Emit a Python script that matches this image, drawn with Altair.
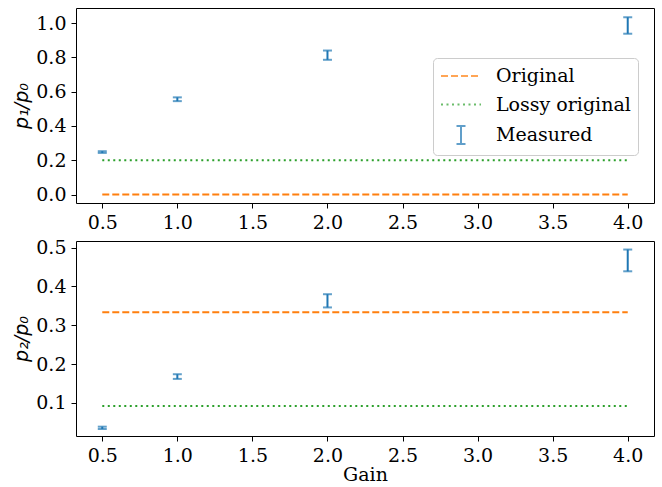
import altair as alt
import pandas as pd

# ---- data ----
gains = [0.5, 1.0, 2.0, 4.0]
p1_measured = [0.248, 0.556, 0.813, 0.986]
p1_err = [0.005, 0.011, 0.027, 0.048]
p2_measured = [0.036, 0.168, 0.363, 0.467]
p2_err = [0.003, 0.006, 0.017, 0.028]

line_x = [0.5, 4.0]
p1_original = 0.0
p1_lossy = 0.2
p2_original = 1 / 3
p2_lossy = 0.092

series = ["Original", "Lossy original", "Measured"]
colors = ["#ff7f0e", "#2ca02c", "#1f77b4"]
dashes = [[7, 3], [2, 3.5], [1, 0]]
legend_shapes = ["M-1,0H3", "M-1,0H3", "M1,-0.9V0.9M0.55,-0.9H1.45M0.55,0.9H1.45"]

x_ticks = [0.5, 1.0, 1.5, 2.0, 2.5, 3.0, 3.5, 4.0]
p1_ticks = [0.0, 0.2, 0.4, 0.6, 0.8, 1.0]
p2_ticks = [0.1, 0.2, 0.3, 0.4, 0.5]

FONT = "DejaVu Serif"
FS = 19


def lines_frame(orig, lossy):
    rows = []
    for x in line_x:
        rows.append({"gain": x, "value": orig, "series": series[0]})
        rows.append({"gain": x, "value": lossy, "series": series[1]})
    return pd.DataFrame(rows)


def meas_frame(mid, err):
    return pd.DataFrame({
        "gain": gains,
        "lo": [m - e for m, e in zip(mid, err)],
        "hi": [m + e for m, e in zip(mid, err)],
        "series": [series[2]] * len(gains),
    })


def panel(mid, err, orig, lossy, yticks, ydomain, ytitle, xtitle, with_legend):
    xaxis_kw = dict(values=x_ticks, format=".1f")
    xaxis_kw["title"] = xtitle if xtitle else None
    x = alt.X("gain:Q", scale=alt.Scale(domain=[0.325, 4.175], nice=False, zero=False),
              axis=alt.Axis(**xaxis_kw))
    y_axis = alt.Axis(values=yticks, format=".1f", title=ytitle, tickCount=len(yticks))
    yscale = alt.Scale(domain=ydomain, nice=False, zero=False)

    def Y(field):
        return alt.Y(field, scale=yscale, axis=y_axis)

    if with_legend:
        leg = alt.Legend(title=None, orient="none", legendX=357, legendY=50,
                         symbolSize=400, symbolStrokeWidth=2,
                         symbolFillColor="transparent",
                         labelFontSize=FS, labelFont=FONT, labelColor="black",
                         labelOffset=34, rowPadding=7.5, padding=7,
                         strokeColor="#cccccc", fillColor="rgba(255,255,255,0.8)",
                         cornerRadius=4)
    else:
        leg = None
    color_scale = alt.Scale(domain=series, range=colors)
    dash_scale = alt.Scale(domain=series, range=dashes)
    shape_scale = alt.Scale(domain=series, range=legend_shapes)

    lines = alt.Chart(lines_frame(orig, lossy)).mark_line(strokeWidth=2).encode(
        x=x,
        y=Y("value:Q"),
        color=alt.Color("series:N", scale=color_scale, legend=leg),
        strokeDash=alt.StrokeDash("series:N", scale=dash_scale, legend=leg),
    )
    mdf = meas_frame(mid, err)
    bars = alt.Chart(mdf).mark_rule(strokeWidth=2).encode(
        x=x, y=Y("lo:Q"), y2="hi:Q",
        color=alt.Color("series:N", scale=color_scale, legend=leg),
    )
    caps = alt.Chart(mdf).transform_fold(["lo", "hi"], as_=["end", "v"]).mark_tick(
        orient="horizontal", size=9, thickness=2
    ).encode(x=x, y=Y("v:Q"),
             color=alt.Color("series:N", scale=color_scale, legend=leg))
    keys = alt.Chart(mdf).transform_filter("false").mark_point(
        filled=False, opacity=1, strokeWidth=2
    ).encode(
        x=x, y=Y("hi:Q"),
        color=alt.Color("series:N", scale=color_scale, legend=leg),
        strokeDash=alt.StrokeDash("series:N", scale=dash_scale, legend=leg),
        shape=alt.Shape("series:N", scale=shape_scale, legend=leg),
    )
    return alt.layer(lines, bars, caps, keys).properties(width=578, height=195)


top = panel(p1_measured, p1_err, p1_original, p1_lossy, p1_ticks, [-0.049, 1.088],
            "p₁/p₀", None, True)
bottom = panel(p2_measured, p2_err, p2_original, p2_lossy, p2_ticks, [0.015, 0.517],
               "p₂/p₀", "Gain", False)

chart = alt.vconcat(top, bottom, spacing=38, bounds="flush").properties(
    padding={"left": 12, "top": 7, "right": 5, "bottom": 5},
).configure(font=FONT).configure_view(
    stroke="black", strokeWidth=1
).configure_axis(
    domain=False, grid=False, tickSize=5, tickColor="black", tickWidth=1,
    labelFont=FONT, labelFontSize=FS, labelColor="black", labelPadding=5,
    labelOverlap=False, labelFlush=False,
    titleFont=FONT, titleFontSize=FS, titleColor="black", titleFontWeight="normal",
).configure_axisY(
    titleFont="DejaVu Sans", titleFontStyle="italic", titlePadding=4,
).configure_axisX(titlePadding=0)

chart.save("out.html", embed_options={"renderer": "svg", "actions": False})
